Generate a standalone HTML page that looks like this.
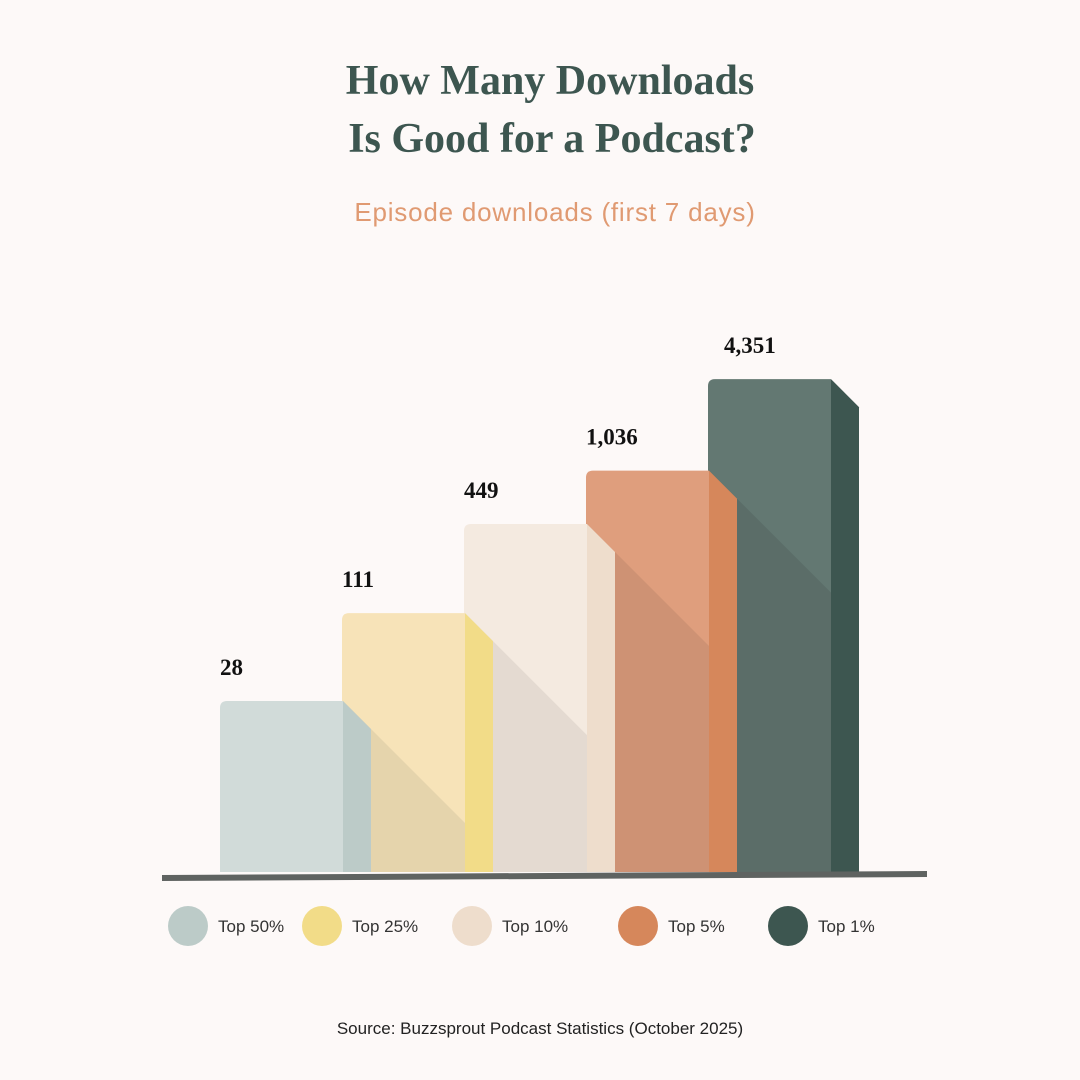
<!DOCTYPE html>
<html><head><meta charset="utf-8"><style>
html,body{margin:0;padding:0;background:#FDF9F8;width:1080px;height:1080px;overflow:hidden;}
svg{display:block}
</style></head><body>
<svg width="1080" height="1080" viewBox="0 0 1080 1080" xmlns="http://www.w3.org/2000/svg">
<rect width="1080" height="1080" fill="#FDF9F8"/>
<text x="550" y="94" text-anchor="middle" font-family="Liberation Serif, serif" font-weight="bold" font-size="42" fill="#3D5650">How Many Downloads</text>
<text x="552" y="152" text-anchor="middle" font-family="Liberation Serif, serif" font-weight="bold" font-size="42" fill="#3D5650">Is Good for a Podcast?</text>
<text x="555" y="221" text-anchor="middle" font-family="Liberation Sans, sans-serif" font-size="26" fill="#E09A72" letter-spacing="0.8">Episode downloads (first 7 days)</text>
<g id="bars"></g>
<polygon points="162,875 927,871 927,877 162,881" fill="#5F6361"/>
<g id="legend"></g>
<text x="540" y="1034" text-anchor="middle" font-family="Liberation Sans, sans-serif" font-size="17" fill="#222">Source: Buzzsprout Podcast Statistics (October 2025)</text>
</svg>
<script>
const categories = ["Top 50%", "Top 25%", "Top 10%", "Top 5%", "Top 1%"];
const values = [28, 111, 449, 1036, 4351];
const valueLabels = ["28", "111", "449", "1,036", "4,351"];
const legendLabels = ["Top 50%", "Top 25%", "Top 10%", "Top 5%", "Top 1%"];

const NS = "http://www.w3.org/2000/svg";
const front = ["#D1DBD9","#F7E3B8","#F4EAE0","#DF9E7D","#637872"];
const shade = ["#C4CFCC","#E5D4AC","#E4DAD1","#CE9274","#5B6D68"];
const side  = ["#BCCBC8","#F2DC88","#EEDDCC","#D6875B","#3D5650"];
const legendCol = ["#BCCBC8","#F2DC88","#EEDDCC","#D6875B","#3D5650"];
const legendX = [188,322,472,638,788];
const baseY = 872, x0 = 220, step = 122, fw = 123, sw = 28;
function yScale(v){ return baseY - (-41.6 + 146.9*Math.log10(v)); }
function xPos(i){ return x0 + i*step; }
function el(tag, attrs, parent){ const e=document.createElementNS(NS,tag); for(const k in attrs) e.setAttribute(k,attrs[k]); parent.appendChild(e); return e; }
const g = document.getElementById('bars');
const defs = el('defs',{},g);
for (let i = values.length-1; i >= 0; i--) {
  const x = xPos(i), top = yScale(values[i]), r = 7;
  const grp = el('g',{},g);
  
  
  const path = `M${x},${baseY} L${x},${top+r} Q${x},${top} ${x+r},${top} L${x+fw},${top} L${x+fw},${baseY} Z`;
  const f = el('path',{d:path,fill:front[i]},grp);
  
  
  if (i > 0) {
    const cp = el('clipPath',{id:'c'+i},defs);
    el('path',{d:path},cp);
    const px = xPos(i-1)+fw, py = yScale(values[i-1]);
    const s = el('polygon',{points:`${px},${py} ${px+600},${py+600} ${px},${py+600}`,fill:shade[i],'clip-path':`url(#c${i})`},grp);
    
    
  }
  const sd = el('polygon',{points:`${x+fw},${top} ${x+fw+sw},${top+sw} ${x+fw+sw},${baseY} ${x+fw},${baseY}`,fill:side[i]},grp);
  
  
  const t = el('text',{x:x + (i==4?16:0), y:top-26,'font-family':'Liberation Serif, serif','font-weight':'bold','font-size':'23',fill:'#111'},g);
  t.textContent = valueLabels[i];
  
  
}
const lg = document.getElementById('legend');
legendLabels.forEach((lab,i)=>{
  const e = el('g',{},lg);
  
  
  el('circle',{cx:legendX[i],cy:926,r:20,fill:legendCol[i]},e);
  const t = el('text',{x:legendX[i]+30,y:932,'font-family':'Liberation Sans, sans-serif','font-size':'17',fill:'#333'},e);
  t.textContent = lab;
});
</script>
</body></html>
